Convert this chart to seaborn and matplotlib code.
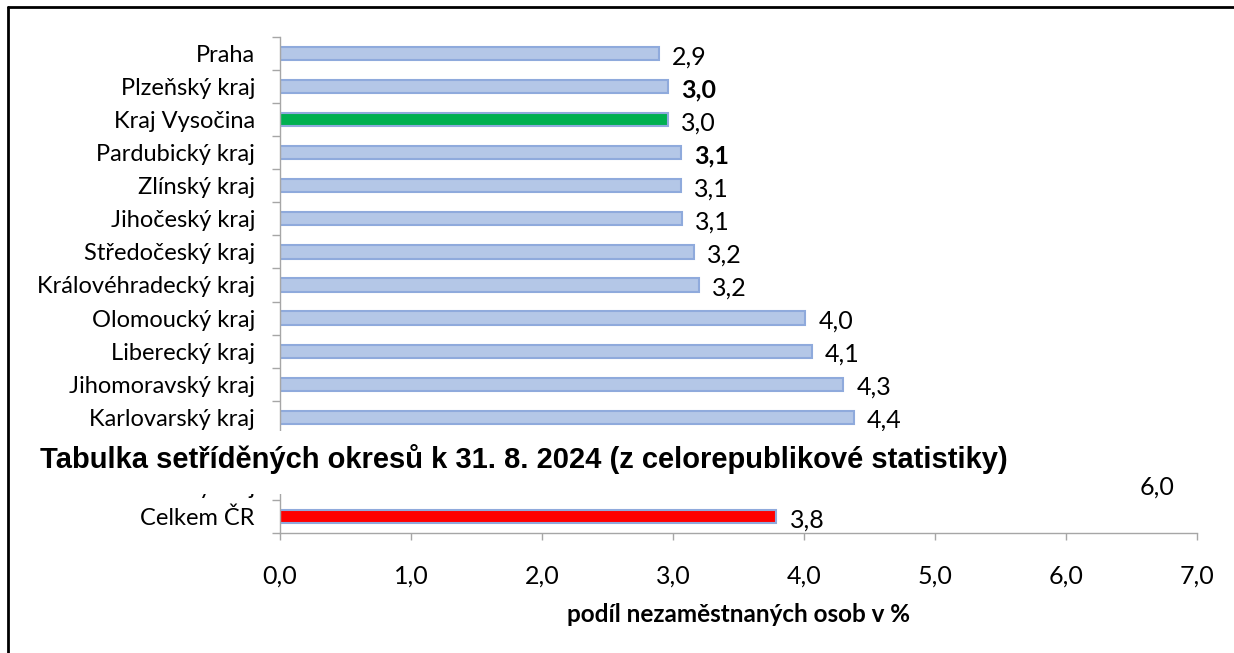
import matplotlib
matplotlib.use("Agg")
import matplotlib.pyplot as plt
import seaborn as sns
import pandas as pd
from matplotlib.patches import Rectangle
from matplotlib.lines import Line2D

categories = ["Praha", "Plzeňský kraj", "Kraj Vysočina", "Pardubický kraj", "Zlínský kraj",
              "Jihočeský kraj", "Středočeský kraj", "Královéhradecký kraj", "Olomoucký kraj",
              "Liberecký kraj", "Jihomoravský kraj", "Karlovarský kraj", "Moravskoslezský kraj",
              "Ústecký kraj", "Celkem ČR"]
values = [2.89, 2.96, 2.96, 3.06, 3.06, 3.07, 3.16, 3.20, 4.01, 4.06, 4.30, 4.38, 5.0, 6.0, 3.79]
bold_labels = ["Plzeňský kraj", "Pardubický kraj"]
title_text = "Tabulka setříděných okresů k 31. 8. 2024 (z celorepublikové statistiky)"
x_label = "podíl nezaměstnaných osob v %"
x_ticks = [0, 1, 2, 3, 4, 5, 6, 7]

base_col = "#B4C7E7"
colors = {c: base_col for c in categories}
colors["Kraj Vysočina"] = "#00B050"
colors["Celkem ČR"] = "#FF0000"

df = pd.DataFrame({"kraj": categories, "podil": values})

sns.set_theme(style="white")
plt.rcParams["font.family"] = ["Lato", "DejaVu Sans"]
plt.rcParams.update({"text.color": "black", "axes.labelcolor": "black",
                     "xtick.color": "black", "ytick.color": "black"})

fig = plt.figure(figsize=(12.34, 6.53), dpi=100)
ax = fig.add_axes([280 / 1234, 1 - 533 / 653, (1197 - 280) / 1234, (533 - 37) / 653])

sns.barplot(data=df, x="podil", y="kraj", hue="kraj", palette=colors, legend=False,
            orient="h", width=0.4, saturation=1, edgecolor="#8FAADC", linewidth=1.5, ax=ax)

ax.set_xlim(0, 7)
ax.set_ylim(len(categories) - 0.5, -0.5)
ax.set_xticks(x_ticks)
ax.set_xticklabels([f"{t:.1f}".replace(".", ",") for t in x_ticks], fontsize=18)
ax.set_yticks(range(len(categories)))
ax.set_yticklabels(categories, fontsize=17)
ax.set_yticks([i - 0.5 for i in range(len(categories) + 1)], minor=True)
ax.tick_params(axis="y", which="major", length=0, pad=18, labelcolor="black")
ax.tick_params(axis="y", which="minor", length=6, width=1, color="#A6A6A6", left=True)
ax.tick_params(axis="x", which="major", length=5, width=1, color="#A6A6A6", pad=17.5,
               bottom=True, labelcolor="black")
for s in ["top", "right"]:
    ax.spines[s].set_visible(False)
for s in ["left", "bottom"]:
    ax.spines[s].set_color("#A6A6A6")
    ax.spines[s].set_linewidth(1)
ax.set_ylabel("")
ax.set_xlabel(x_label, fontsize=17.5, fontweight="bold", labelpad=11, color="black")

for i, (c, v) in enumerate(zip(categories, values)):
    off = 0.56 if c == "Ústecký kraj" else 0.1
    ax.text(v + off, i + 0.1, f"{v:.1f}".replace(".", ","), va="center", ha="left",
            fontsize=18, color="black",
            fontweight="bold" if c in bold_labels else "normal")

# white box with overlaid title
fig.add_artist(Rectangle((22 / 1234, 1 - 494 / 653), (1100 - 22) / 1234, 63 / 653,
                         transform=fig.transFigure, facecolor="white", edgecolor="none",
                         zorder=10))
fig.text(40 / 1234, 1 - 459 / 653, title_text, fontsize=21, fontweight="bold",
         family=["Liberation Sans", "DejaVu Sans"], va="center", ha="left",
         color="black", zorder=11)

# outer frame (top and left)
fig.add_artist(Line2D([8 / 1234, 1], [1 - 7 / 653, 1 - 7 / 653], transform=fig.transFigure,
                      color="black", lw=2))
fig.add_artist(Line2D([8 / 1234, 8 / 1234], [0, 1 - 7 / 653], transform=fig.transFigure,
                      color="black", lw=2))

fig.savefig("out.png", dpi=100)
